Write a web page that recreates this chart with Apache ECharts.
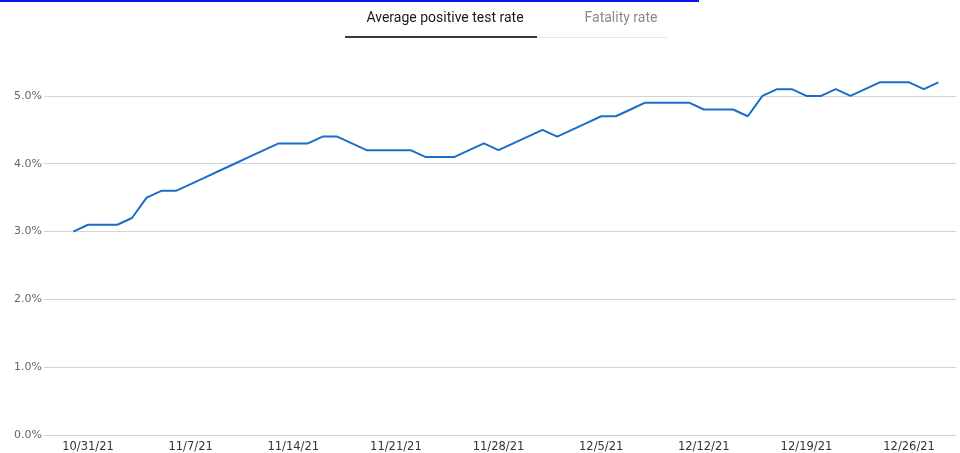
<!DOCTYPE html>
<html><head><meta charset="utf-8">
<script src="https://cdn.jsdelivr.net/npm/echarts@6/dist/echarts.min.js"></script>
<style>html,body{margin:0;padding:0;background:#fff}#c{width:960px;height:453px}</style>
</head><body><div id="c"></div>
<script>
// Data
const startDate = '2021-10-30'; // first observation
const positiveRate = [3.0,3.1,3.1,3.1,3.2,3.5,3.6,3.6,3.7,3.8,3.9,4.0,4.1,4.2,4.3,4.3,4.3,4.4,4.4,4.3,
  4.2,4.2,4.2,4.2,4.1,4.1,4.1,4.2,4.3,4.2,4.3,4.4,4.5,4.4,4.5,4.6,4.7,4.7,4.8,4.9,
  4.9,4.9,4.9,4.8,4.8,4.8,4.7,5.0,5.1,5.1,5.0,5.0,5.1,5.0,5.1,5.2,5.2,5.2,5.1,5.2];
const tickLabels = ['10/31/21','11/7/21','11/14/21','11/21/21','11/28/21','12/5/21','12/12/21','12/19/21','12/26/21'];
const yTicks = [0,1,2,3,4,5];
const tabs = ['Average positive test rate','Fatality rate'];

const DAY = 86400000;
const t0 = Date.parse(startDate + 'T00:00:00Z');
function parseLabel(s){ const [m,d,y] = s.split('/').map(Number); return Date.UTC(2000+y, m-1, d); }
const tickPos = tickLabels.map(s => Math.round((parseLabel(s)-t0)/DAY));
const labelAt = {}; tickPos.forEach((p,i)=>labelAt[p]=tickLabels[i]);
const seriesData = positiveRate.map((v,i)=>[i,v]);

const chart = echarts.init(document.getElementById('c'), null, {renderer:'canvas'});
chart.setOption({
  animation:false,
  backgroundColor:'#fff',
  grid:{left:44,right:4,top:62,bottom:15,containLabel:false},
  xAxis:{
    type:'value', min:-2, max:60.2,
    axisLine:{show:false}, axisTick:{show:false}, splitLine:{show:false},
    axisLabel:{customValues:tickPos, formatter:v=>labelAt[Math.round(v)]||'', color:'#333',
      fontFamily:'DejaVu Sans', fontSize:11.5, margin:6}
  },
  yAxis:{
    type:'value', min:0, max:5.5, interval:1,
    axisLine:{show:false}, axisTick:{show:false},
    splitLine:{show:true, showMaxLine:false, lineStyle:{color:'#d4d4d4', width:1}},
    axisLabel:{showMaxLabel:false, formatter:v=> yTicks.includes(v) ? v.toFixed(1)+'%' : '',
      color:'#666', fontFamily:'DejaVu Sans', fontSize:11, margin:2}
  },
  series:[{
    type:'line', data:seriesData, showSymbol:false, symbol:'none',
    lineStyle:{color:'#1c6dc8', width:2}, itemStyle:{color:'#1c6dc8'}
  }],
  graphic:[
    {type:'rect', shape:{x:0,y:0,width:699,height:2}, style:{fill:'#0a14f0'}, silent:true},
    {type:'text', x:445, y:18, style:{text:tabs[0], fill:'#1a1a1a', font:'14px Roboto', textAlign:'center', textVerticalAlign:'middle'}},
    {type:'text', x:621, y:18, style:{text:tabs[1], fill:'#8a8a8a', font:'14px Roboto', textAlign:'center', textVerticalAlign:'middle'}},
    {type:'rect', shape:{x:537,y:37,width:130,height:1}, style:{fill:'#e6e6e6'}, silent:true},
    {type:'rect', shape:{x:345,y:36,width:192,height:2}, style:{fill:'#3a3a3a'}, silent:true}
  ]
});
</script></body></html>
